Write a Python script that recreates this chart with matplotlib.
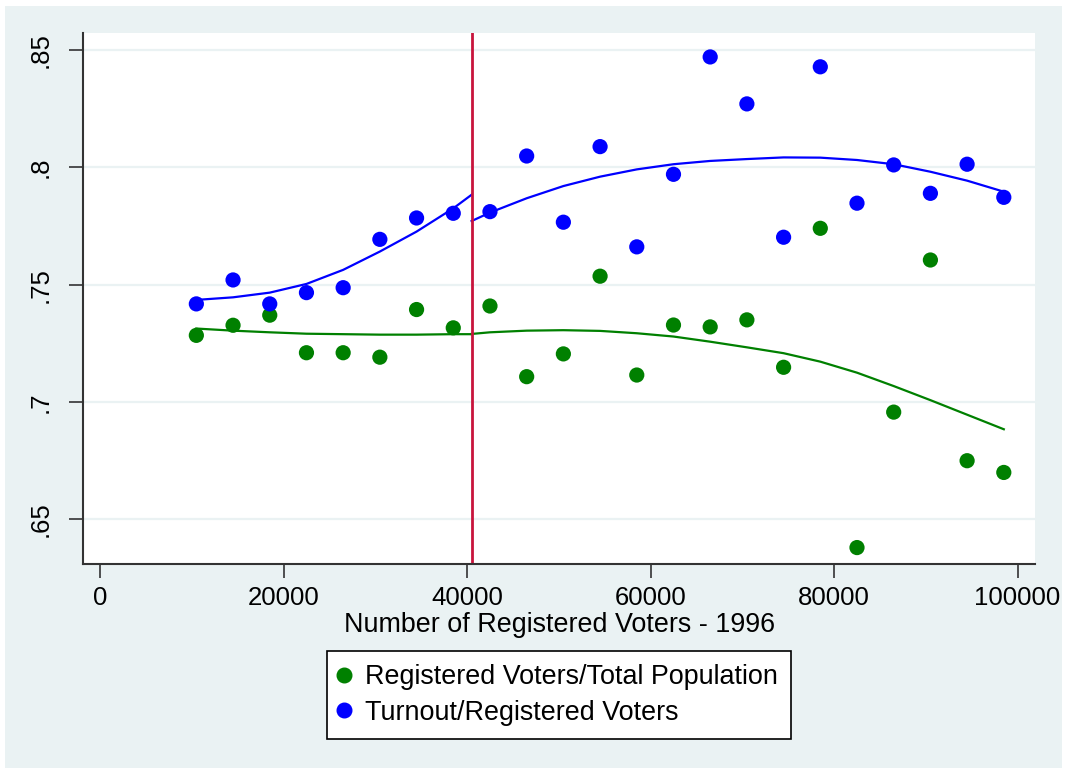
import numpy as np
import matplotlib.pyplot as plt
from matplotlib.patches import Rectangle
from matplotlib.lines import Line2D

plt.rcParams['font.family'] = ['Liberation Sans', 'DejaVu Sans']

# bin midpoints (number of registered voters, 1996)
voters = [10500, 14500, 18500, 22500, 26500, 30500, 34500, 38500,
          42500, 46500, 50500, 54500, 58500, 62500, 66500, 70500,
          74500, 78500, 82500, 86500, 90500, 94500, 98500]

# Turnout / Registered voters (bin means)
turnout = [.7418, .7520, .7418, .7466, .7487, .7693, .7784, .7804,
           .7811, .8048, .7766, .8088, .7661, .7970, .8470, .8270,
           .7702, .8428, .7847, .8010, .7889, .8013, .7872]

# Registered voters / Total population (bin means)
registered = [.7284, .7327, .7370, .7210, .7210, .7191, .7394, .7316,
              .7409, .7108, .7205, .7536, .7115, .7328, .7320, .7350,
              .7148, .7740, .6380, .6957, .7605, .6750, .6700]

cutoff = 40500

fit_x_left = [10500, 14500, 18500, 22500, 26500, 30500, 34500, 38500, 40500]
fit_x_right = [40500, 42500, 46500, 50500, 54500, 58500, 62500, 66500, 70500,
               74500, 78500, 82500, 86500, 90500, 94500, 98500]
turnout_fit_left = [.7435, .7446, .7466, .7503, .7563, .7641, .7726, .7825, .7883]
turnout_fit_right = [.7771, .7807, .7868, .7920, .7960, .7991, .8013, .8027,
                     .8035, .8042, .8041, .8031, .8013, .7981, .7943, .7896]
registered_fit_left = [.7313, .7304, .7297, .7291, .7289, .7287, .7287, .7289, .7289]
registered_fit_right = [.7290, .7297, .7304, .7306, .7303, .7293, .7279, .7257,
                        .7233, .7208, .7172, .7125, .7068, .7008, .6946, .6884]

yticks = [.65, .7, .75, .8, .85]
ytick_labels = ['.65', '.7', '.75', '.8', '.85']
xticks = [0, 20000, 40000, 60000, 80000, 100000]

GREEN = '#008000'
BLUE = '#0000FF'
BG = '#EAF2F3'

fig = plt.figure(figsize=(10.7, 7.73), dpi=100)
fig.patch.set_facecolor('white')
fig.patches.append(Rectangle((5 / 1070, 1 - 768 / 773), 1057 / 1070, 762 / 773,
                             transform=fig.transFigure, facecolor=BG,
                             edgecolor='none', zorder=-10))

ax = fig.add_axes([83 / 1070, 1 - 564 / 773, 952 / 1070, 531 / 773])
ax.set_facecolor('white')

series = [
    (registered, registered_fit_left, registered_fit_right, GREEN),
    (turnout, turnout_fit_left, turnout_fit_right, BLUE),
]
for ys, fl, fr, col in series:
    ax.scatter(voters, ys, s=120, color=col, edgecolors='none', zorder=3)
    ax.plot(fit_x_left, fl, color=col, lw=1.6, zorder=2)
    ax.plot(fit_x_right, fr, color=col, lw=1.6, zorder=2)

ax.axvline(cutoff, color='#C8143C', lw=2, zorder=2)

ax.set_xlim(-1853, 101900)
ax.set_ylim(.631, .8572)
ax.set_xticks(xticks)
ax.set_xticklabels([str(v) for v in xticks])
ax.set_yticks(yticks)
ax.set_yticklabels(ytick_labels, rotation=90, va='center')
ax.tick_params(axis='both', labelsize=18.5, length=10, width=1.2, color='#333333')
ax.tick_params(axis='y', pad=12)
ax.tick_params(axis='x', pad=6)
ax.grid(axis='y', color=BG, lw=1.6)
ax.set_axisbelow(True)
for side in ['top', 'right']:
    ax.spines[side].set_visible(False)
for side in ['left', 'bottom']:
    ax.spines[side].set_color('#333333')
    ax.spines[side].set_linewidth(1.5)

ax.set_xlabel('Number of Registered Voters - 1996', fontsize=19.4, labelpad=1)

handles = [Line2D([], [], ls='none', marker='o', markersize=10.5, color=GREEN),
           Line2D([], [], ls='none', marker='o', markersize=10.5, color=BLUE)]
leg = fig.legend(handles, ['Registered Voters/Total Population',
                           'Turnout/Registered Voters'],
                 loc='center', bbox_to_anchor=(559 / 1070, 1 - 695 / 773),
                 fontsize=19.4, frameon=True, fancybox=False,
                 handletextpad=0.6, handlelength=0.3, labelspacing=0.36,
                 borderpad=0.5, borderaxespad=0)
leg.get_frame().set_edgecolor('black')
leg.get_frame().set_linewidth(1.2)
leg.get_frame().set_facecolor('white')
leg.get_frame().set_alpha(1)

fig.savefig('out.png', dpi=100, facecolor=fig.get_facecolor())
